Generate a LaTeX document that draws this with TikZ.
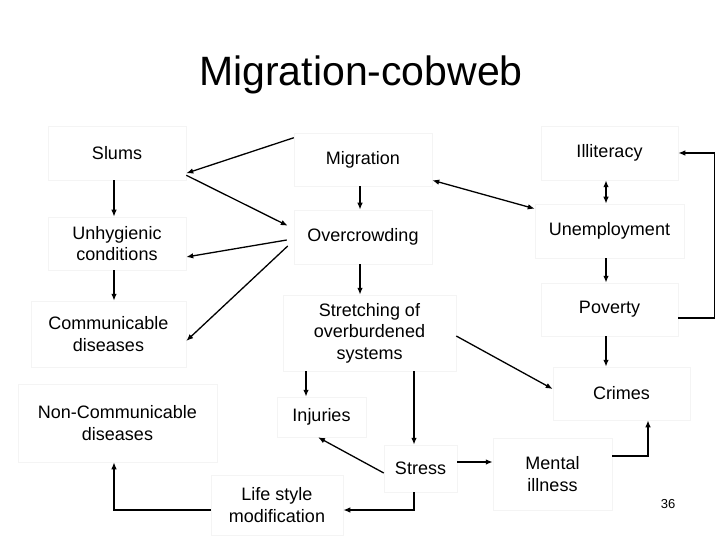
\documentclass[tikz,border=0pt]{standalone}
\usepackage{fontspec}
\setmainfont{Liberation Sans}
\usetikzlibrary{arrows.meta}
\definecolor{boxline}{RGB}{244,244,244}
\newcommand\bodyfont{\fontsize{18}{21.5}\selectfont}
\tikzset{
  box/.style={draw=boxline, line width=0.5pt, inner sep=0pt, align=center, font=\bodyfont},
  arr/.style={line width=1.3pt, -{Latex[length=7pt,width=5.5pt]}},
  darr/.style={line width=1.3pt, {Latex[length=7pt,width=5.5pt]}-{Latex[length=7pt,width=5.5pt]}}
}
\begin{document}
\begin{tikzpicture}[x=1pt,y=-1pt]
\useasboundingbox[fill=white] (0,0) rectangle (720,540);
\node[font=\fontsize{41}{41}\selectfont, anchor=base] (title) at (361,86) {Migration-cobweb};
\node[box, minimum width=138pt, minimum height=54pt] (slums) at (117,153) {Slums};
\node[box, minimum width=138pt, minimum height=53pt] (unh) at (117,243.5) {Unhygienic\\conditions};
\node[box, minimum width=155pt, minimum height=66pt] (comm) at (108.5,334) {Communicable\\diseases};
\node[box, minimum width=199pt, minimum height=78pt] (nc) at (117.5,423) {Non-Communicable\\diseases};
\node[box, minimum width=138pt, minimum height=53pt] (mig) at (363,159.5) {Migration};
\node[box, minimum width=138pt, minimum height=54pt] (oc) at (363,237) {Overcrowding};
\node[box, minimum width=173pt, minimum height=76pt] (str) at (369.5,333) {Stretching of\\overburdened\\systems};
\node[box, minimum width=89pt, minimum height=40pt] (inj) at (321.5,417) {Injuries};
\node[box, minimum width=73pt, minimum height=47pt] (stress) at (420.5,468.5) {Stress};
\node[box, minimum width=132pt, minimum height=60pt] (life) at (277,505) {Life style\\modification};
\node[box, minimum width=137pt, minimum height=54pt] (ill) at (609.5,153) {Illiteracy};
\node[box, minimum width=149pt, minimum height=54pt] (unemp) at (609.5,231) {Unemployment};
\node[box, minimum width=137pt, minimum height=53pt] (pov) at (609.5,309.5) {Poverty};
\node[box, minimum width=137pt, minimum height=53pt] (crimes) at (621.5,393.5) {Crimes};
\node[box, minimum width=119pt, minimum height=72pt] (mental) at (552.5,474) {Mental\\illness};
\node[font=\fontsize{13}{13}\selectfont, anchor=base] (pg) at (668,508.5) {36};
% left column
\draw[arr] ([yshift=-5pt]mig.north west) -- ([yshift=7pt]slums.south east);
\draw[arr] ([yshift=5pt]slums.south east) -- ([xshift=-6pt,yshift=-16pt]oc.north west);
\draw[arr] ([xshift=-7pt,yshift=-3pt]oc.west) -- ([yshift=-13.5pt]unh.east);
\draw[arr] ([xshift=-6pt,yshift=-9pt]oc.west) -- ([yshift=-7pt]comm.east);
\draw[arr] ([xshift=-3pt]slums.south) -- ([xshift=-3pt]unh.north);
\draw[arr] ([xshift=-3pt]unh.south) -- ([xshift=-3pt]unh.south |- comm.north);
% middle column
\draw[arr] ([xshift=-3pt]mig.south) -- ([xshift=-3pt]oc.north);
\draw[arr] ([xshift=-3pt]oc.south) -- ([xshift=-3pt]oc.south |- str.north);
\draw[arr] ([xshift=-15.5pt]inj.north |- str.south) -- ([xshift=-15.5pt]inj.north);
\draw[arr] ([xshift=-6.5pt]stress.north |- str.south) -- ([xshift=-6.5pt]stress.north);
\draw[arr] ([yshift=-4.5pt]stress.west) -- ([xshift=-3.5pt]inj.south);
\draw[arr] ([xshift=-6.5pt]stress.south) |- ([yshift=-5pt]life.east);
\draw[arr] ([yshift=-5pt]life.west) -| ([xshift=-3.5pt]nc.south);
\draw[arr] ([yshift=6.5pt]stress.east) -- ([yshift=6.5pt]stress.east -| mental.west);
\draw[arr] ([yshift=18pt]mental.east) -| ([xshift=26.5pt]crimes.south);
\draw[arr] ([yshift=-3pt]str.east) -- ([yshift=4.5pt]crimes.west);
% right column
\draw[darr] ([yshift=6pt]mig.south east) -- ([yshift=-5pt]unemp.north west);
\draw[darr] ([xshift=-3.5pt]ill.south) -- ([xshift=-3.5pt]unemp.north);
\draw[arr] ([xshift=-3.5pt]unemp.south) -- ([xshift=-3.5pt]pov.north);
\draw[arr] ([xshift=-3.5pt]pov.south) -- ([xshift=-3.5pt]pov.south |- crimes.north);
\draw[arr] ([yshift=-8.5pt]pov.east) -- ([xshift=36pt,yshift=-8.5pt]pov.east) |- (ill.east);
\end{tikzpicture}
\end{document}
